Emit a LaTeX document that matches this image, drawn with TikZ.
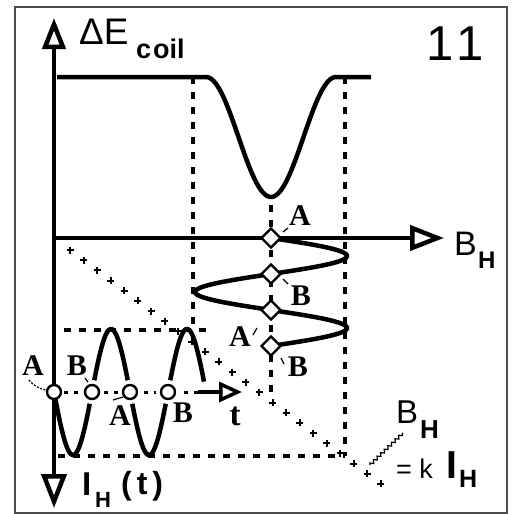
\documentclass[tikz,border=0pt]{standalone}
\usepackage{fontspec}
\setmainfont{Liberation Sans}
\newfontfamily\labserif{Liberation Serif}
\usetikzlibrary{arrows.meta,shapes.geometric,decorations.pathmorphing}
\begin{document}
\begin{tikzpicture}[x=1pt,y=-1pt,
  frame/.style={draw=black!70, line width=2pt},
  axis/.style={line width=4.5pt},
  curve/.style={line width=4.5pt, line join=round},
  dotline/.style={line width=4.5pt, dash pattern=on 7pt off 8pt},
  taxis/.style={line width=3pt, dash pattern=on 4pt off 6pt},
  crossmark/.style={line width=2pt},
  dia/.style={diamond, draw, fill=white, line width=2.4pt, minimum width=20pt, minimum height=20pt, inner sep=0pt},
  circ/.style={circle, draw, fill=white, line width=2.4pt, minimum size=14pt, inner sep=0pt},
  halo/.style={preaction={draw=white, line width=10pt}},
  lab/.style={font=\labserif\bfseries\fontsize{30}{30}\selectfont, inner sep=0pt},
  sanslab/.style={inner sep=0pt, anchor=base west},
  leader/.style={line width=1.2pt},
]
\useasboundingbox (0,0) rectangle (512,514);
\draw[frame] (15,7) rectangle (506.5,512.5);

% coordinates
\coordinate (O) at (54,238);
\coordinate (Vtop) at (54,18);
\coordinate (Vbot) at (54,508);
\coordinate (Hend) at (444,238);
\coordinate (topL) at (57,77);
\coordinate (topR) at (371,77);

% dotted guide lines
\coordinate (d1a) at (193,77);  \coordinate (d1b) at (193,330);
\coordinate (d2a) at (345,77);  \coordinate (d2b) at (345,456);
\coordinate (d3a) at (271,205); \coordinate (d3b) at (271,395);
\coordinate (h1a) at (64,330);  \coordinate (h1b) at (210,330);
\coordinate (h2a) at (58,456);  \coordinate (h2b) at (345,456);
\draw[dotline] (d1a) -- (d1b);
\draw[dotline] (d2a) -- (d2b);
\draw[dotline] (d3a) -- (d3b);
\draw[dotline] (h1a) -- (h1b);
\draw[dotline] (h2a) -- (h2b);

% diagonal B = k I  (plus marks)
\foreach \k in {0,...,23}{
  \pgfmathsetmacro\px{70+13.5*\k}
  \pgfmathsetmacro\py{238+(\px-54)*0.753}
  \draw[crossmark] (\px-3.5,\py) -- (\px+3.5,\py) (\px,\py-3.5) -- (\px,\py+3.5);
}

% axes
\draw[axis, {Triangle[open,length=34pt,width=25pt]}-{Triangle[open,length=31pt,width=23pt]}] (Vbot) -- (Vtop);
\draw[axis, -{Triangle[open,length=34pt,width=25pt]}] (O) -- (Hend);

% top curve Delta E_coil(B_H)
\draw[curve] (topL) -- (206,77)
  -- plot[domain=206:336, samples=70] (\x, {77+60*(1+cos(2.7692*(\x-271)))})
  -- (topR);

% B_H(t) sideways
\draw[curve] plot[domain=238:346, samples=120] ({271+76*sin(5*(\x-238))}, \x);

% I_H(t)
\draw[curve] plot[domain=54:204, samples=150] (\x, {392+63*sin(4.7368*(\x-54))});

% time axis
\coordinate (tmid) at (198,392);
\coordinate (tend) at (242,392);
\draw[taxis] (O |- tmid) -- (tmid);
\draw[line width=3.5pt, -{Triangle[open,length=23pt,width=20pt]}] (tmid) -- (tend);

% markers
\node[dia] (mA)  at (271,238) {};
\node[dia] (mB)  at (271,274) {};
\node[dia] (mA2) at (271,310) {};
\node[dia] (mB2) at (271,346) {};
\node[circ] (cA)  at (54,392) {};
\node[circ,halo] (cB)  at (92,392) {};
\node[circ,halo] (cA2) at (130,392) {};
\node[circ,halo] (cB2) at (168,392) {};

% serif labels
\node[lab] (lA)  at (300,216) {A};
\node[lab] (lB)  at (301,296) {B};
\node[lab] (lA2) at (240,337) {A};
\node[lab] (lB2) at (298,367) {B};
\node[lab] (tA)  at (33,366) {A};
\node[lab] (tB)  at (77,366) {B};
\node[lab] (tA2) at (120,416) {A};
\node[lab] (tB2) at (183,413) {B};
\node[lab, font=\labserif\bfseries\fontsize{33}{33}\selectfont] (tl) at (235,416) {t};

% leader ticks
\draw[leader] (283,232) -- (288,228);
\draw[leader] (283,279) -- (288,284);
\draw[leader] (253,335) -- (257,328);
\draw[leader] (281,358) -- (284,364);
\draw[leader, dash pattern=on 2pt off 1.5pt] (29,380) to[bend right=20] (46,390);
\draw[leader] (85,378) -- (88,382);
\draw[leader] (113,400) -- (123,397);

% sans labels
\node[sanslab] (dE) at (79,44) {\fontsize{37}{37}\selectfont ΔE};
\node[sanslab] (coil) at (136,58) {\bfseries\fontsize{27}{27}\selectfont c\kern2pt oil};
\node[sanslab] (num) at (426,60) {\fontsize{49}{49}\selectfont 1\kern3pt1};
\node[sanslab] (BHr) at (454,255) {\fontsize{34}{34}\selectfont B};
\node[sanslab] (BHrs) at (478,268) {\bfseries\fontsize{24}{24}\selectfont H};
\node[sanslab] (IH) at (82,495) {\bfseries\fontsize{33}{33}\selectfont I};
\node[sanslab] (IHs) at (95,507) {\bfseries\fontsize{22}{22}\selectfont H};
\node[sanslab] (IHt) at (121,494) {\bfseries\fontsize{32}{32}\selectfont (\kern5pt t\kern5pt)};
\node[sanslab] (BHl) at (396,423) {\fontsize{33}{33}\selectfont B};
\node[sanslab] (BHls) at (420,438) {\bfseries\fontsize{26}{26}\selectfont H};
\node[sanslab] (keq) at (396,478) {\fontsize{27}{27}\selectfont = k};
\node[sanslab] (kI) at (446,478) {\bfseries\fontsize{39}{39}\selectfont I};
\node[sanslab] (kIs) at (459,487) {\bfseries\fontsize{25}{25}\selectfont H};
\coordinate (zz1) at (370,465);
\coordinate (zz2) at (403,433);
\draw[line width=1.2pt, decorate, decoration={zigzag, amplitude=1.5pt, segment length=5pt}] (zz1) -- (zz2);
\end{tikzpicture}
\end{document}
